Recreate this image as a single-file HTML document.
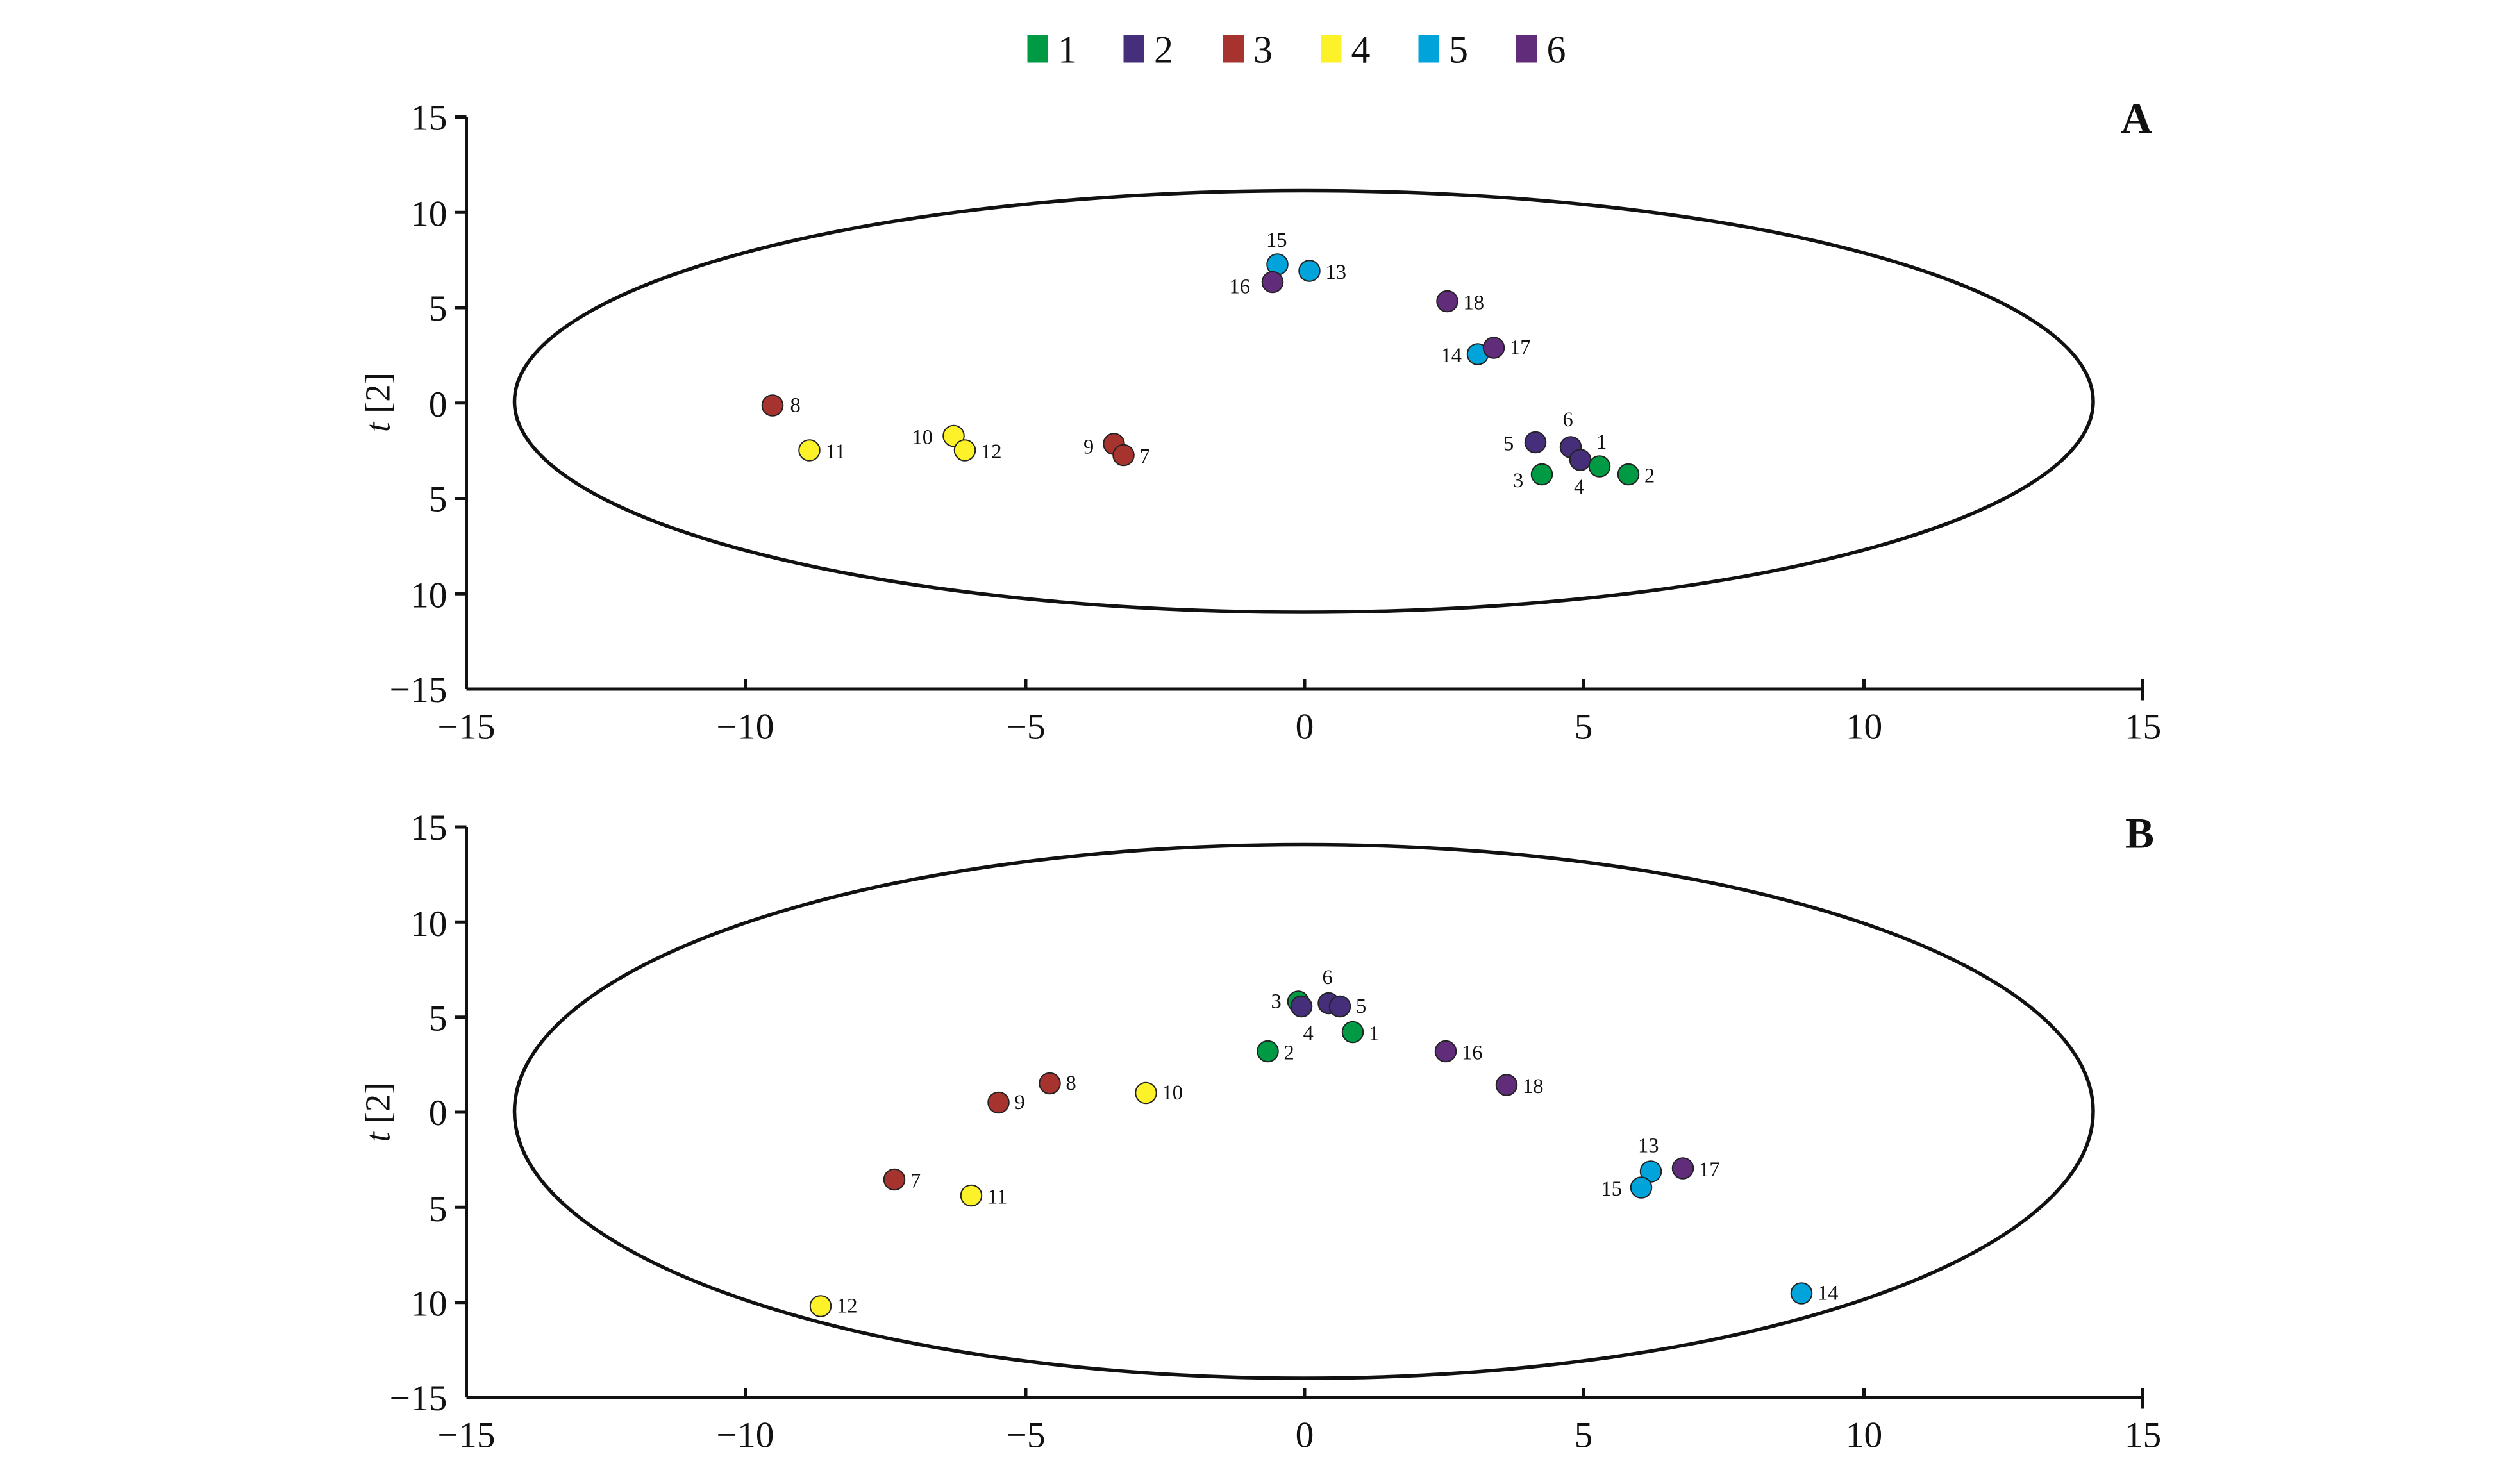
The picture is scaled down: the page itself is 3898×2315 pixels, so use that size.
<!DOCTYPE html>
<html><head><meta charset="utf-8"><style>
html,body{margin:0;padding:0;background:#fff;}
svg{display:block;}
text{font-family:"Liberation Serif",serif;fill:#111;}
</style></head><body>
<svg width="3898" height="2315" viewBox="0 0 1559.2 926" xmlns="http://www.w3.org/2000/svg">
<!-- legend -->
<g font-size="24">
<rect x="641" y="22" width="13" height="17" fill="#009a44"/><text x="660" y="39">1</text>
<rect x="701" y="22" width="13" height="17" fill="#452f7a"/><text x="720" y="39">2</text>
<rect x="763" y="22" width="13" height="17" fill="#a6332e"/><text x="782" y="39">3</text>
<rect x="824" y="22" width="13" height="17" fill="#fdf22a"/><text x="843" y="39">4</text>
<rect x="885" y="22" width="13" height="17" fill="#00a3da"/><text x="904" y="39">5</text>
<rect x="946" y="22" width="13" height="17" fill="#612d7a"/><text x="965" y="39">6</text>
</g>

<!-- Panel A -->
<g stroke="#111" stroke-width="2" fill="none">
<line x1="291" y1="73" x2="291" y2="430"/>
<line x1="291" y1="430" x2="1338" y2="430"/>
<line x1="284" y1="73" x2="291" y2="73"/><line x1="284" y1="132.5" x2="291" y2="132.5"/><line x1="284" y1="192" x2="291" y2="192"/><line x1="284" y1="251.5" x2="291" y2="251.5"/><line x1="284" y1="311" x2="291" y2="311"/><line x1="284" y1="370.5" x2="291" y2="370.5"/>
<line x1="465" y1="424" x2="465" y2="430"/><line x1="640" y1="424" x2="640" y2="430"/><line x1="814" y1="424" x2="814" y2="430"/><line x1="988" y1="424" x2="988" y2="430"/><line x1="1163" y1="424" x2="1163" y2="430"/><line x1="1337" y1="424" x2="1337" y2="437"/>
<ellipse cx="813.5" cy="250.5" rx="492.5" ry="131.5" stroke-width="2.2"/>
</g>
<g font-size="23" text-anchor="end">
<text x="279" y="81">15</text><text x="279" y="141">10</text><text x="279" y="200">5</text><text x="279" y="260">0</text><text x="279" y="319">5</text><text x="279" y="379">10</text><text x="279" y="438">−15</text>
</g>
<g font-size="23" text-anchor="middle">
<text x="291" y="461">−15</text><text x="465" y="461">−10</text><text x="640" y="461">−5</text><text x="814" y="461">0</text><text x="988" y="461">5</text><text x="1163" y="461">10</text><text x="1337" y="461">15</text>
</g>
<text transform="translate(243,251) rotate(-90)" font-size="22" text-anchor="middle"><tspan font-style="italic">t</tspan> [2]</text>
<text x="1333" y="83" font-size="27" font-weight="bold" text-anchor="middle">A</text>
<g stroke="#222" stroke-width="0.8">
<circle cx="797" cy="165" r="6.5" fill="#00a3da"/><circle cx="817" cy="169" r="6.5" fill="#00a3da"/>
<circle cx="794" cy="176" r="6.5" fill="#612d7a"/><circle cx="903" cy="188" r="6.5" fill="#612d7a"/>
<circle cx="922" cy="221" r="6.5" fill="#00a3da"/><circle cx="932" cy="217" r="6.5" fill="#612d7a"/>
<circle cx="482" cy="253" r="6.5" fill="#a6332e"/><circle cx="505" cy="281" r="6.5" fill="#fdf22a"/>
<circle cx="595" cy="272" r="6.5" fill="#fdf22a"/><circle cx="602" cy="281" r="6.5" fill="#fdf22a"/>
<circle cx="695" cy="277" r="6.5" fill="#a6332e"/><circle cx="701" cy="284" r="6.5" fill="#a6332e"/>
<circle cx="958" cy="276" r="6.5" fill="#452f7a"/><circle cx="980" cy="279" r="6.5" fill="#452f7a"/>
<circle cx="986" cy="287" r="6.5" fill="#452f7a"/>
<circle cx="962" cy="296" r="6.5" fill="#009a44"/><circle cx="998" cy="291" r="6.5" fill="#009a44"/><circle cx="1016" cy="296" r="6.5" fill="#009a44"/>
</g>
<g font-size="13">
<text x="790" y="154">15</text><text x="827" y="174">13</text><text x="767" y="183">16</text><text x="913" y="193">18</text>
<text x="899" y="226">14</text><text x="942" y="221">17</text><text x="493" y="257">8</text><text x="515" y="286">11</text>
<text x="569" y="277">10</text><text x="612" y="286">12</text><text x="676" y="283">9</text><text x="711" y="289">7</text>
<text x="938" y="281">5</text><text x="975" y="266">6</text><text x="996" y="280">1</text>
<text x="944" y="304">3</text><text x="982" y="308">4</text><text x="1026" y="301">2</text>
</g>

<!-- Panel B -->
<g stroke="#111" stroke-width="2" fill="none">
<line x1="291" y1="516" x2="291" y2="872"/>
<line x1="291" y1="872" x2="1338" y2="872"/>
<line x1="284" y1="516" x2="291" y2="516"/><line x1="284" y1="575.3" x2="291" y2="575.3"/><line x1="284" y1="634.7" x2="291" y2="634.7"/><line x1="284" y1="694" x2="291" y2="694"/><line x1="284" y1="753.3" x2="291" y2="753.3"/><line x1="284" y1="812.7" x2="291" y2="812.7"/>
<line x1="465" y1="866" x2="465" y2="872"/><line x1="640" y1="866" x2="640" y2="872"/><line x1="814" y1="866" x2="814" y2="872"/><line x1="988" y1="866" x2="988" y2="872"/><line x1="1163" y1="866" x2="1163" y2="872"/><line x1="1337" y1="866" x2="1337" y2="879"/>
<ellipse cx="813.5" cy="693.5" rx="492.5" ry="166.5" stroke-width="2.2"/>
</g>
<g font-size="23" text-anchor="end">
<text x="279" y="524">15</text><text x="279" y="584">10</text><text x="279" y="643">5</text><text x="279" y="702">0</text><text x="279" y="762">5</text><text x="279" y="821">10</text><text x="279" y="880">−15</text>
</g>
<g font-size="23" text-anchor="middle">
<text x="291" y="903">−15</text><text x="465" y="903">−10</text><text x="640" y="903">−5</text><text x="814" y="903">0</text><text x="988" y="903">5</text><text x="1163" y="903">10</text><text x="1337" y="903">15</text>
</g>
<text transform="translate(243,694) rotate(-90)" font-size="22" text-anchor="middle"><tspan font-style="italic">t</tspan> [2]</text>
<text x="1335" y="529" font-size="27" font-weight="bold" text-anchor="middle">B</text>
<g stroke="#222" stroke-width="0.8">
<circle cx="810" cy="625" r="6.5" fill="#009a44"/><circle cx="812" cy="628" r="6.5" fill="#452f7a"/>
<circle cx="829" cy="626" r="6.5" fill="#452f7a"/><circle cx="836" cy="628" r="6.5" fill="#452f7a"/>
<circle cx="844" cy="644" r="6.5" fill="#009a44"/><circle cx="791" cy="656" r="6.5" fill="#009a44"/>
<circle cx="902" cy="656" r="6.5" fill="#612d7a"/><circle cx="940" cy="677" r="6.5" fill="#612d7a"/>
<circle cx="655" cy="676" r="6.5" fill="#a6332e"/><circle cx="623" cy="688" r="6.5" fill="#a6332e"/>
<circle cx="715" cy="682" r="6.5" fill="#fdf22a"/><circle cx="558" cy="736" r="6.5" fill="#a6332e"/>
<circle cx="606" cy="746" r="6.5" fill="#fdf22a"/><circle cx="1030" cy="731" r="6.5" fill="#00a3da"/>
<circle cx="1050" cy="729" r="6.5" fill="#612d7a"/><circle cx="1024" cy="741" r="6.5" fill="#00a3da"/>
<circle cx="1124" cy="807" r="6.5" fill="#00a3da"/><circle cx="512" cy="815" r="6.5" fill="#fdf22a"/>
</g>
<g font-size="13">
<text x="793" y="629">3</text><text x="825" y="614">6</text><text x="846" y="632">5</text><text x="813" y="649">4</text>
<text x="854" y="649">1</text><text x="801" y="661">2</text><text x="912" y="661">16</text><text x="950" y="682">18</text>
<text x="665" y="680">8</text><text x="633" y="692">9</text><text x="725" y="686">10</text><text x="568" y="741">7</text>
<text x="616" y="751">11</text><text x="1022" y="719">13</text><text x="1060" y="734">17</text><text x="999" y="746">15</text>
<text x="1134" y="811">14</text><text x="522" y="819">12</text>
</g>
</svg>
</body></html>
